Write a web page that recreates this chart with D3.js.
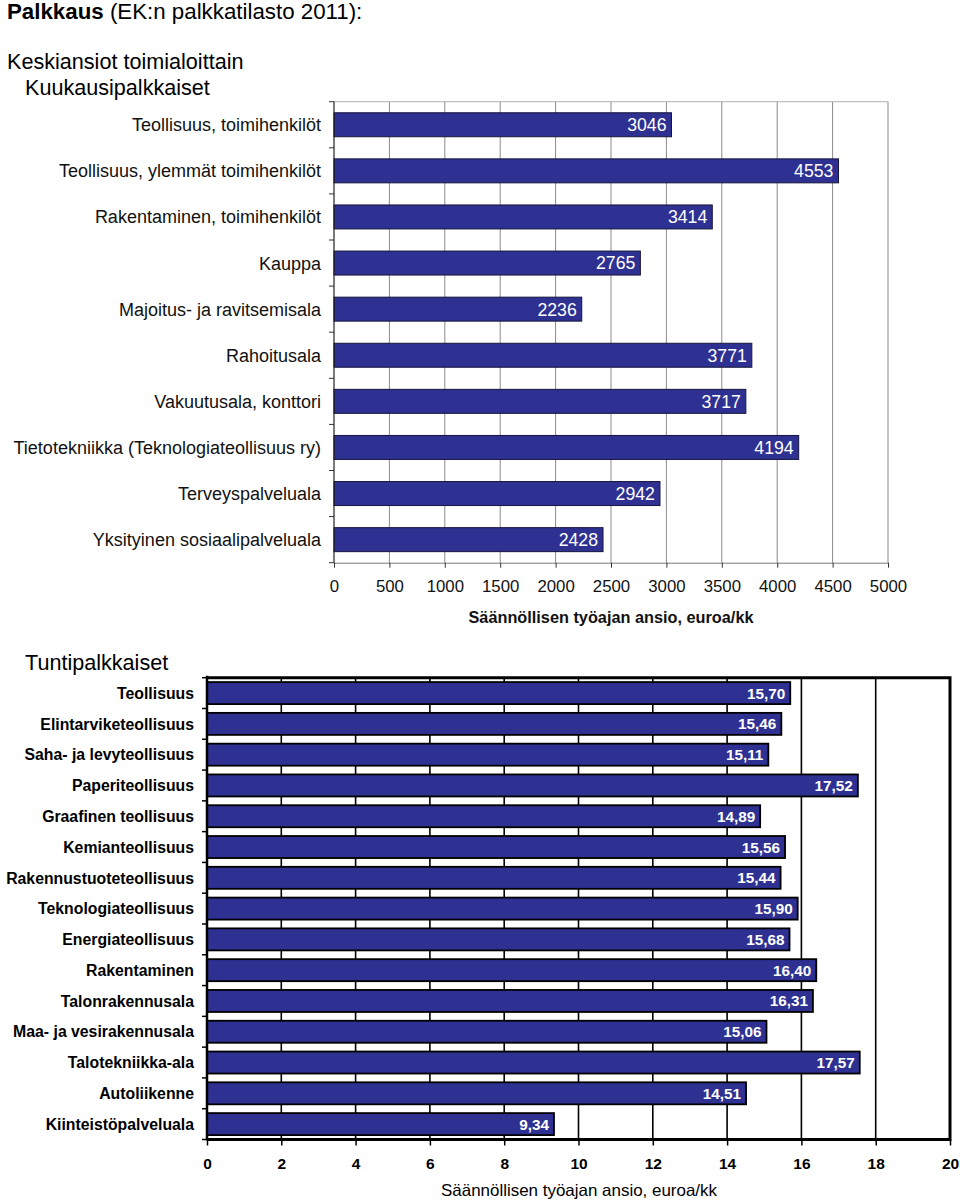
<!DOCTYPE html>
<html>
<head>
<meta charset="utf-8">
<script src="https://cdn.jsdelivr.net/npm/d3@7"></script>
<style>
  html, body { margin: 0; padding: 0; background: #fff; }
  svg { display: block; font-family: "Liberation Sans", Arial, sans-serif; }
</style>
</head>
<body>
<script>
// ---- Data ----
const monthlyCategories = [
  "Teollisuus, toimihenkilöt",
  "Teollisuus, ylemmät toimihenkilöt",
  "Rakentaminen, toimihenkilöt",
  "Kauppa",
  "Majoitus- ja ravitsemisala",
  "Rahoitusala",
  "Vakuutusala, konttori",
  "Tietotekniikka (Teknologiateollisuus ry)",
  "Terveyspalveluala",
  "Yksityinen sosiaalipalveluala"
];
const monthlyValues = [3046, 4553, 3414, 2765, 2236, 3771, 3717, 4194, 2942, 2428];
const monthlyTicks = [0, 500, 1000, 1500, 2000, 2500, 3000, 3500, 4000, 4500, 5000];

const hourlyCategories = [
  "Teollisuus",
  "Elintarviketeollisuus",
  "Saha- ja levyteollisuus",
  "Paperiteollisuus",
  "Graafinen teollisuus",
  "Kemianteollisuus",
  "Rakennustuoteteollisuus",
  "Teknologiateollisuus",
  "Energiateollisuus",
  "Rakentaminen",
  "Talonrakennusala",
  "Maa- ja vesirakennusala",
  "Talotekniikka-ala",
  "Autoliikenne",
  "Kiinteistöpalveluala"
];
const hourlyValues = [15.70, 15.46, 15.11, 17.52, 14.89, 15.56, 15.44, 15.90, 15.68, 16.40, 16.31, 15.06, 17.57, 14.51, 9.34];
const hourlyTicks = [0, 2, 4, 6, 8, 10, 12, 14, 16, 18, 20];

const titleBold = "Palkkaus";
const titleRest = " (EK:n palkkatilasto 2011):";
const subtitle1 = "Keskiansiot toimialoittain";
const subtitle2 = "Kuukausipalkkaiset";
const subtitle3 = "Tuntipalkkaiset";
const axisTitle = "Säännöllisen työajan ansio, euroa/kk";

// ---- Setup ----
const W = 960, H = 1203;
const BAR = "#2e3192";
const svg = d3.select("body").append("svg").attr("width", W).attr("height", H);

const fiLocale = d3.formatLocale({decimal: ",", thousands: "\u00a0", grouping: [3], currency: ["", " €"]});
const fmt2 = fiLocale.format(".2f");

// ---- Titles ----
const t = svg.append("text").attr("x", 7).attr("y", 19).attr("font-size", 22.3).attr("fill", "#000");
t.append("tspan").attr("font-weight", "bold").text(titleBold);
t.append("tspan").text(titleRest);
svg.append("text").attr("x", 7).attr("y", 69).attr("font-size", 21.6).text(subtitle1);
svg.append("text").attr("x", 25).attr("y", 95).attr("font-size", 21.6).text(subtitle2);
svg.append("text").attr("x", 25).attr("y", 670).attr("font-size", 21.6).text(subtitle3);

// ---- Top chart (monthly) ----
(function () {
  const x0 = 334, x1 = 888, y0 = 101.7, y1 = 562.7;
  const x = d3.scaleLinear().domain([0, 5000]).range([x0, x1]);
  const y = d3.scaleBand().domain(monthlyCategories).range([y0, y1]).paddingInner(0.48).paddingOuter(0.24);
  const g = svg.append("g");

  g.selectAll("line.grid").data(monthlyTicks.slice(1)).join("line")
    .attr("x1", d => x(d)).attr("x2", d => x(d)).attr("y1", y0).attr("y2", y1)
    .attr("stroke", "#8a8a8a").attr("stroke-width", 1);
  g.append("line").attr("x1", x0).attr("x2", x1).attr("y1", y0).attr("y2", y0)
    .attr("stroke", "#b0b0b0").attr("stroke-width", 1);

  g.selectAll("rect.bar").data(monthlyValues).join("rect")
    .attr("x", x(0)).attr("y", (d, i) => y(monthlyCategories[i]))
    .attr("width", d => x(d) - x(0)).attr("height", y.bandwidth())
    .attr("fill", BAR).attr("stroke", "#15153c").attr("stroke-width", 1);

  g.selectAll("text.val").data(monthlyValues).join("text")
    .attr("x", d => x(d) - 5).attr("y", (d, i) => y(monthlyCategories[i]) + y.bandwidth() / 2)
    .attr("dy", "0.36em").attr("text-anchor", "end").attr("font-size", 17.7).attr("fill", "#fff")
    .text(d => d);

  const xa = g.append("g").attr("transform", `translate(0,${y1})`)
    .call(d3.axisBottom(x).tickValues(monthlyTicks).tickSize(5).tickPadding(12).tickFormat(d3.format("d")));
  xa.select(".domain").attr("stroke", "#777").attr("d", `M${x0},0.5H${x1}`);
  xa.selectAll(".tick line").attr("stroke", "#333");
  xa.selectAll(".tick text").attr("font-size", 16.8).attr("fill", "#111").attr("font-family", "Liberation Sans, Arial, sans-serif");

  const boundaries = monthlyCategories.map(c => y(c) - y.step() * y.paddingInner() / 2).concat([y1]);
  g.selectAll("line.ytick").data(boundaries).join("line")
    .attr("x1", x0 - 5).attr("x2", x0).attr("y1", d => d).attr("y2", d => d)
    .attr("stroke", "#333").attr("stroke-width", 1);
  g.append("line").attr("x1", x0).attr("x2", x0).attr("y1", y0).attr("y2", y1)
    .attr("stroke", "#222").attr("stroke-width", 1.2);

  g.selectAll("text.cat").data(monthlyCategories).join("text")
    .attr("x", x0 - 13).attr("y", d => y(d) + y.bandwidth() / 2).attr("dy", "0.36em")
    .attr("text-anchor", "end").attr("font-size", 18).attr("fill", "#111").text(d => d);

  g.append("text").attr("x", (467 + 755) / 2).attr("y", 623).attr("text-anchor", "middle")
    .attr("font-size", 16.3).attr("font-weight", "bold").attr("fill", "#111").text(axisTitle);
})();

// ---- Bottom chart (hourly) ----
(function () {
  const x0 = 207, x1 = 950, y0 = 677.7, y1 = 1139.5;
  const x = d3.scaleLinear().domain([0, 20]).range([x0, x1]);
  const y = d3.scaleBand().domain(hourlyCategories).range([y0, y1]).paddingInner(0.285).paddingOuter(0.1425);
  const g = svg.append("g");

  g.selectAll("line.grid").data(hourlyTicks.slice(1, -1)).join("line")
    .attr("x1", d => x(d)).attr("x2", d => x(d)).attr("y1", y0).attr("y2", y1)
    .attr("stroke", "#000").attr("stroke-width", 1.6);

  g.selectAll("rect.bar").data(hourlyValues).join("rect")
    .attr("x", x(0)).attr("y", (d, i) => y(hourlyCategories[i]))
    .attr("width", d => x(d) - x(0)).attr("height", y.bandwidth())
    .attr("fill", BAR).attr("stroke", "#000").attr("stroke-width", 1.8);

  g.append("path").attr("d", `M${x0},${y0}H${x1}V${y1}H${x0}`)
    .attr("fill", "none").attr("stroke", "#000").attr("stroke-width", 3);

  g.selectAll("text.val").data(hourlyValues).join("text")
    .attr("x", d => x(d) - 5).attr("y", (d, i) => y(hourlyCategories[i]) + y.bandwidth() / 2)
    .attr("dy", "0.36em").attr("text-anchor", "end").attr("font-size", 15.3).attr("font-weight", "bold")
    .attr("fill", "#fff").text(d => fmt2(d));

  const xa = g.append("g").attr("transform", `translate(0,${y1})`)
    .call(d3.axisBottom(x).tickValues(hourlyTicks).tickSize(6).tickPadding(12).tickFormat(d3.format("d")));
  xa.select(".domain").remove();
  xa.selectAll(".tick line").attr("stroke", "#000").attr("stroke-width", 1.5);
  xa.selectAll(".tick text").attr("font-size", 15.5).attr("font-weight", "bold").attr("fill", "#000")
    .attr("font-family", "Liberation Sans, Arial, sans-serif");

  const boundaries = hourlyCategories.map(c => y(c) - y.step() * y.paddingInner() / 2).concat([y1]);
  g.selectAll("line.ytick").data(boundaries).join("line")
    .attr("x1", x0 - 5).attr("x2", x0).attr("y1", d => d).attr("y2", d => d)
    .attr("stroke", "#000").attr("stroke-width", 1.5);
  g.append("line").attr("x1", x0).attr("x2", x0).attr("y1", y0 - 2).attr("y2", y1 + 1)
    .attr("stroke", "#000").attr("stroke-width", 2.5);

  g.selectAll("text.cat").data(hourlyCategories).join("text")
    .attr("x", x0 - 13).attr("y", d => y(d) + y.bandwidth() / 2).attr("dy", "0.36em")
    .attr("text-anchor", "end").attr("font-size", 15.8).attr("font-weight", "bold").attr("fill", "#000").text(d => d);

  g.append("text").attr("x", (441 + 717) / 2).attr("y", 1196).attr("text-anchor", "middle")
    .attr("font-size", 16.5).attr("fill", "#000")
    .attr("textLength", 276).attr("lengthAdjust", "spacingAndGlyphs").text(axisTitle);
})();
</script>
</body>
</html>
